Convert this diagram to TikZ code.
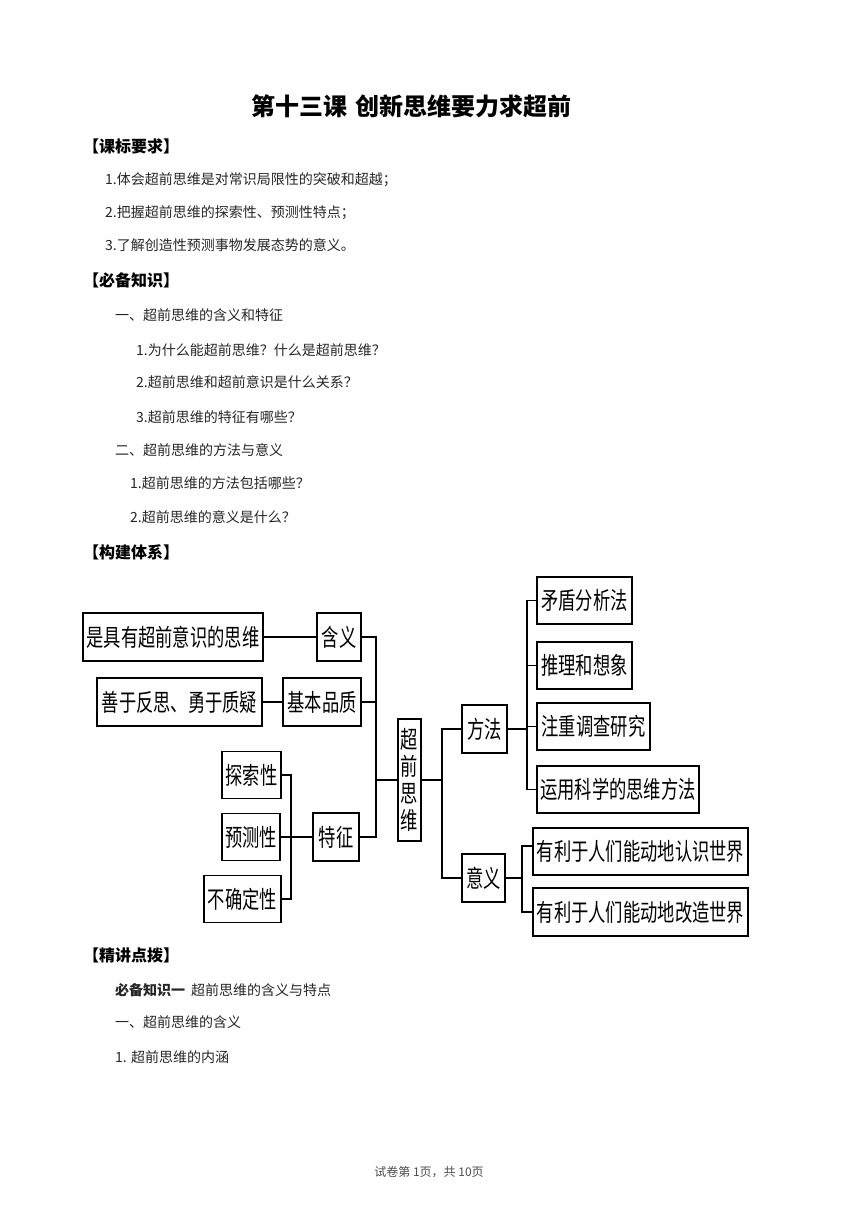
\documentclass[tikz,border=0pt]{standalone}
\usepackage{fontspec}
\usepackage{graphicx}
\setmainfont{Noto Sans CJK SC}
\newcommand\bx[1]{\scalebox{0.72}[1]{#1}}
\begin{document}
\begin{tikzpicture}[x=1pt,y=-1pt,
  box/.style={draw,line width=1.8pt,inner sep=0pt,minimum height=47pt,font=\fontsize{24}{27}\selectfont},
  conn/.style={line width=1.8pt},
  txt/.style={anchor=west,inner sep=0pt,font=\fontsize{14}{16}\selectfont,text=black!85},
  hdr/.style={anchor=west,inner sep=0pt,font=\fontsize{16}{19}\selectfont\bfseries}]
\useasboundingbox (0,0) rectangle (860,1216);
\fill[white] (0,0) rectangle (860,1216);
% title
\node[inner sep=0pt,font=\fontsize{24}{28}\selectfont\bfseries] (title) at (411.5,106) {第十三课\hspace{8pt}创新思维要力求超前};
\node[hdr] (h1) at (83,146) {【课标要求】};
\node[txt] (a1) at (105,180) {1.体会超前思维是对常识局限性的突破和超越；};
\node[txt] (a2) at (105,213) {2.把握超前思维的探索性、预测性特点；};
\node[txt] (a3) at (105,245) {3.了解创造性预测事物发展态势的意义。};
\node[hdr] (h2) at (83,280) {【必备知识】};
\node[txt] (b0) at (115,315) {一、超前思维的含义和特征};
\node[txt] (b1) at (136,350) {1.为什么能超前思维？什么是超前思维？};
\node[txt] (b2) at (136,382) {2.超前思维和超前意识是什么关系？};
\node[txt] (b3) at (136,417) {3.超前思维的特征有哪些？};
\node[txt] (c0) at (115,450) {二、超前思维的方法与意义};
\node[txt] (c1) at (130,483) {1.超前思维的方法包括哪些？};
\node[txt] (c2) at (130,517) {2.超前思维的意义是什么？};
\node[hdr] (h3) at (83,552) {【构建体系】};
% diagram boxes
\node[box,minimum width=180pt,minimum height=48pt] (def) at (173,637) {\bx{是具有超前意识的思维}};
\node[box,minimum width=44pt,minimum height=48pt] (hanyi) at (339,637) {\bx{含义}};
\node[box,minimum width=165pt,minimum height=48pt] (pzl) at (179.5,702) {\bx{善于反思、勇于质疑}};
\node[box,minimum width=78pt,minimum height=48pt] (pz) at (322,702) {\bx{基本品质}};
\node[box,minimum width=59pt] (tsx) at (251.5,775) {\bx{探索性}};
\node[box,minimum width=58pt] (ycx) at (251,837) {\bx{预测性}};
\node[box,minimum width=77pt] (bqd) at (242.5,899) {\bx{不确定性}};
\node[box,minimum width=46pt,minimum height=48pt] (tz) at (336,837) {\bx{特征}};
\node[box,minimum width=23pt,minimum height=122pt,align=center] (root) at (409.5,780) {\bx{超}\\\bx{前}\\\bx{思}\\\bx{维}};
\node[box,minimum width=45pt,minimum height=48pt] (ff) at (484.5,729) {\bx{方法}};
\node[box,minimum width=43pt,minimum height=48pt] (yy) at (483.5,878) {\bx{意义}};
\node[box,minimum width=95pt] (m1) at (584.5,600.5) {\bx{矛盾分析法}};
\node[box,minimum width=95pt] (m2) at (584.5,665.5) {\bx{推理和想象}};
\node[box,minimum width=113pt] (m3) at (593.5,726.5) {\bx{注重调查研究}};
\node[box,minimum width=162pt] (m4) at (618,789.5) {\bx{运用科学的思维方法}};
\node[box,minimum width=215pt] (s1) at (640.5,851.5) {\bx{有利于人们能动地认识世界}};
\node[box,minimum width=215pt,minimum height=48pt] (s2) at (640.5,912) {\bx{有利于人们能动地改造世界}};
% buses
\coordinate (busL) at (376,780);
\coordinate (busT) at (291,837);
\coordinate (busR) at (442,780);
\coordinate (busM) at (527,729);
\coordinate (busS) at (522,878);
\coordinate (s1in) at (522,846);
% connectors
\draw[conn] (def.east) -- (hanyi.west);
\draw[conn] (pzl.east) -- (pz.west);
\draw[conn] (hanyi.east) -- (hanyi.east -| busL) -- (tz.east -| busL) -- (tz.east);
\draw[conn] (pz.east) -- (pz.east -| busL);
\draw[conn] (busL) -- (root.west);
\draw[conn] (tsx.east) -- (tsx.east -| busT) -- (bqd.east -| busT) -- (bqd.east);
\draw[conn] (ycx.east) -- (tz.west);
\draw[conn] (root.east) -- (busR);
\draw[conn] (ff.west) -- (ff.west -| busR) -- (yy.west -| busR) -- (yy.west);
\draw[conn] (ff.east) -- (busM);
\draw[conn] (m1.west) -- (m1.west -| busM) -- (m4.west -| busM) -- (m4.west);
\draw[conn] (m2.west) -- (m2.west -| busM);
\draw[conn] (m3.west) -- (m3.west -| busM);
\draw[conn] (yy.east) -- (busS);
\draw[conn] (s1.west |- s1in) -- (s1in) -- (s2.west -| busS) -- (s2.west);
% lower text
\node[hdr] (h4) at (83,955) {【精讲点拨】};
\node[txt] (d0) at (115,990) {\textbf{必备知识一}\hspace{6pt}超前思维的含义与特点};
\node[txt] (d1) at (115,1022) {一、超前思维的含义};
\node[txt] (d2) at (115,1057) {1. 超前思维的内涵};
\node[inner sep=0pt,font=\fontsize{12}{14}\selectfont,text=black!70] (foot) at (429,1172) {试卷第 1页，共 10页};
\end{tikzpicture}
\end{document}
